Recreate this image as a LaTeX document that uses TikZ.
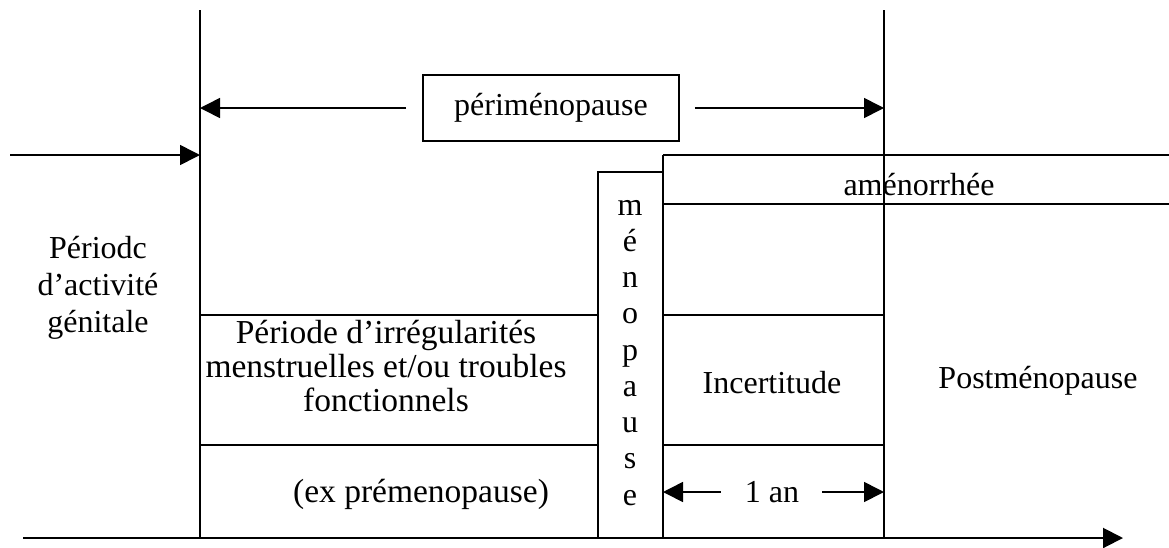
\documentclass[tikz,border=0pt]{standalone}
\usepackage{fontspec}
\setmainfont{Liberation Serif}
\usetikzlibrary{arrows.meta}
\begin{document}
\begin{tikzpicture}[x=1pt,y=-1pt,
  mainline/.style={line width=2pt},
  boxline/.style={line width=1.6pt},
  tipped/.style={-{Triangle[length=20pt,width=20pt]}},
  lbl/.style={anchor=base, inner sep=0pt, font=\fontsize{32}{36}\selectfont},
  biglbl/.style={lbl, font=\fontsize{33.5}{36}\selectfont},
]
\useasboundingbox (0,0) rectangle (1169,547);
% main structure
\coordinate (Ltop) at (200,10);
\coordinate (Lbot) at (200,538);
\coordinate (Rtop) at (884,10);
\coordinate (Rbot) at (884,538);
\coordinate (axisL) at (23,538);
\coordinate (axisR) at (1123,538);
\draw[mainline] (Ltop) -- (Lbot);
\draw[mainline] (Rtop) -- (Rbot);
\draw[mainline,tipped] (axisL) -- (axisR);
% incoming arrow
\coordinate (inL) at (10,155);
\coordinate (Lmid) at (200,155);
\draw[boxline,tipped] (inL) -- (Lmid);
% perimenopause
\node[draw, boxline, minimum width=256pt, minimum height=66pt, inner sep=0pt,
      font=\fontsize{32}{36}\selectfont] (peri) at (551,108) {périménopause};
\coordinate (periL) at (200,108);
\coordinate (periR) at (884,108);
\draw[boxline,tipped,shorten <=16pt] (peri.west) -- (periL);
\draw[boxline,tipped,shorten <=15pt] (peri.east) -- (periR);
% menopause column
\draw[boxline] (598,538) -- (598,172) -- (663,172);
\draw[boxline] (663,155) -- (663,538);
\foreach \ch [count=\i from 0] in {m,é,n,o,p,a,u,s,e}
  \node[lbl] (meno\i) at (630,{215+36.25*\i}) {\ch};
% amenorrhee band
\draw[boxline] (663,155) -- (1169,155);
\draw[boxline] (663,204) -- (1169,204);
\node[lbl] (amen) at (919,195) {aménorrhée};
% boxes
\draw[boxline] (200,315) rectangle (598,445);
\draw[boxline] (663,315) rectangle (884,445);
% texts
\node[lbl] (act1) at (98,258) {Périodc};
\node[lbl] (act2) at (98,295) {d’activité};
\node[lbl] (act3) at (98,332) {génitale};
\node[biglbl] (irr1) at (386,343) {Période d’irrégularités};
\node[biglbl] (irr2) at (386,377) {menstruelles et/ou troubles};
\node[biglbl] (irr3) at (386,411) {fonctionnels};
\node[biglbl] (expre) at (421,502) {(ex prémenopause)};
\node[lbl] (incert) at (772,393) {Incertitude};
\node[lbl] (post) at (1038,388) {Postménopause};
% 1 an
\node[inner sep=0pt, text height=21pt, text depth=0pt,
      font=\fontsize{32}{36}\selectfont] (onean) at (772,492) {1 an};
\coordinate (anL) at (663,492);
\coordinate (anR) at (884,492);
\draw[boxline,tipped,shorten <=24pt] (onean.west) -- (anL);
\draw[boxline,tipped,shorten <=23pt] (onean.east) -- (anR);
\end{tikzpicture}
\end{document}
